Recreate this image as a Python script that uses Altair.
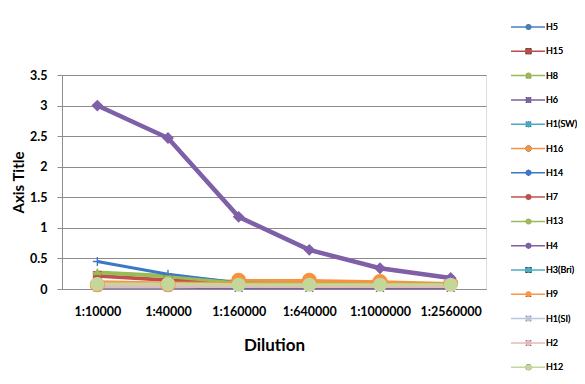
import altair as alt
import pandas as pd

dilutions = ["1:10000", "1:40000", "1:160000", "1:640000", "1:1000000", "1:2560000"]
series = ["H5", "H15", "H8", "H6", "H1(SW)", "H16", "H14", "H7", "H13", "H4",
          "H3(Bri)", "H9", "H1(SI)", "H2", "H12"]

H5 = [0.06, 0.05, 0.04, 0.04, 0.04, 0.04]
H15 = [0.22, 0.15, 0.10, 0.09, 0.08, 0.07]
H8 = [0.28, 0.22, 0.11, 0.10, 0.09, 0.08]
H6 = [0.03, 0.03, 0.02, 0.02, 0.02, 0.02]
H1_SW = [0.07, 0.06, 0.06, 0.06, 0.05, 0.05]
H16 = [0.07, 0.07, 0.14, 0.14, 0.12, 0.09]
H14 = [0.45, 0.24, 0.10, 0.08, 0.07, 0.07]
H7 = [0.21, 0.14, 0.09, 0.08, 0.07, 0.07]
H13 = [0.26, 0.20, 0.10, 0.09, 0.08, 0.08]
H4 = [3.00, 2.47, 1.18, 0.64, 0.34, 0.18]
H3_Bri = [0.07, 0.07, 0.06, 0.06, 0.06, 0.06]
H9 = [0.12, 0.10, 0.09, 0.08, 0.08, 0.07]
H1_SI = [0.04, 0.04, 0.04, 0.04, 0.04, 0.04]
H2 = [0.05, 0.05, 0.05, 0.04, 0.04, 0.04]
H12 = [0.08, 0.08, 0.07, 0.07, 0.07, 0.07]

values = [H5, H15, H8, H6, H1_SW, H16, H14, H7, H13, H4, H3_Bri, H9, H1_SI, H2, H12]

colors = ["#4A7EBB", "#BE4B48", "#98B954", "#7D60A0", "#46AAC5", "#F69240",
          "#3C78C3", "#C0504D", "#9BBB59", "#7F5FA8", "#4BACC6", "#F79646",
          "#B9C7E0", "#E6B9B8", "#C4D79B"]

X_PATH = "M-1,-0.75L-0.75,-1L0,-0.25L0.75,-1L1,-0.75L0.25,0L1,0.75L0.75,1L0,0.25L-0.75,1L-1,0.75L-0.25,0Z"
STAR = X_PATH + "M-0.15,-1H0.15V1H-0.15Z"
PLUS = "M-0.15,-1H0.15V-0.15H1V0.15H0.15V1H-0.15V0.15H-1V-0.15H-0.15Z"
DASH_S = "M-0.7,-0.2H0.7V0.2H-0.7Z"
DASH_L = "M-1,-0.22H1V0.22H-1Z"
shapes = ["diamond", "square", "triangle-up", X_PATH, STAR, "circle", PLUS, DASH_S,
          DASH_L, "diamond", "square", "triangle-up", X_PATH, STAR, "circle"]

rows = []
for si, (name, vals) in enumerate(zip(series, values)):
    for di, (d, v) in enumerate(zip(dilutions, vals)):
        rows.append({"series": name, "dilution": d, "value": v, "order": si * 10 + di})
df = pd.DataFrame(rows)

FONT = "Lato"
color_scale = alt.Scale(domain=series, range=colors)
shape_scale = alt.Scale(domain=series, range=shapes)

x_enc = alt.X("dilution:N", sort=dilutions,
              scale=alt.Scale(type="point", padding=0.5),
              axis=alt.Axis(title="Dilution", labelAngle=0, ticks=False, tickSize=0,
                            grid=False, domainColor="#8c8c8c", domainWidth=1,
                            labelFont=FONT, labelFontWeight="bold", labelFontSize=12.5,
                            labelColor="#000000", labelPadding=16,
                            titleFont=FONT, titleFontWeight="bold", titleFontSize=17,
                            titleColor="#000000", titlePadding=20))
y_enc = alt.Y("value:Q",
              scale=alt.Scale(domain=[0, 3.5], nice=False, zero=True),
              axis=alt.Axis(title="Axis Title", values=[0, 0.5, 1, 1.5, 2, 2.5, 3, 3.5],
                            format="~g", grid=True, gridColor="#8c8c8c", gridWidth=1,
                            domainColor="#8c8c8c", tickColor="#8c8c8c", tickSize=5,
                            labelFont=FONT, labelFontWeight="bold", labelFontSize=12.5,
                            labelColor="#000000", labelPadding=10,
                            titleFont=FONT, titleFontWeight="bold", titleFontSize=15,
                            titleColor="#000000", titlePadding=3))

line_legend = alt.Legend(orient="none", legendX=448, legendY=-55, title=None,
                         symbolType="stroke", symbolSize=1156, symbolStrokeWidth=1.5,
                         labelExpr="''", clipHeight=14, rowPadding=10.3, padding=0)
marker_legend = alt.Legend(orient="none", legendX=462, legendY=-55, title=None,
                           symbolSize=36, symbolStrokeWidth=0, clipHeight=14,
                           rowPadding=10.3, padding=0, labelOffset=13,
                           labelFont=FONT, labelFontSize=9, labelColor="#000000")

lines = alt.Chart(df).mark_line().encode(
    x=x_enc, y=y_enc,
    color=alt.Color("series:N", scale=color_scale, legend=line_legend),
    strokeWidth=alt.condition("datum.series === 'H4'", alt.value(4.5), alt.value(3)),
    order=alt.Order("order:Q"),
)

points = alt.Chart(df).mark_point(
    filled=True, opacity=1,
    size={"expr": "datum.series === 'H4' ? 140 : (datum.series === 'H12' ? 200 : (datum.series === 'H16' ? 230 : 80))"},
).encode(
    x=x_enc, y=y_enc,
    color=alt.Color("series:N", scale=color_scale, legend=marker_legend),
    shape=alt.Shape("series:N", scale=shape_scale, legend=marker_legend),
    order=alt.Order("order:Q"),
)

chart = alt.layer(lines, points).resolve_scale(color="independent").properties(
    width=424, height=214,
    autosize=alt.AutoSizeParams(type="none"),
    padding={"left": 54, "top": 67, "right": 91, "bottom": 87},
).configure_view(stroke=None).configure(background="white")

chart.save("out.html", embed_options={"renderer": "svg", "actions": False})
